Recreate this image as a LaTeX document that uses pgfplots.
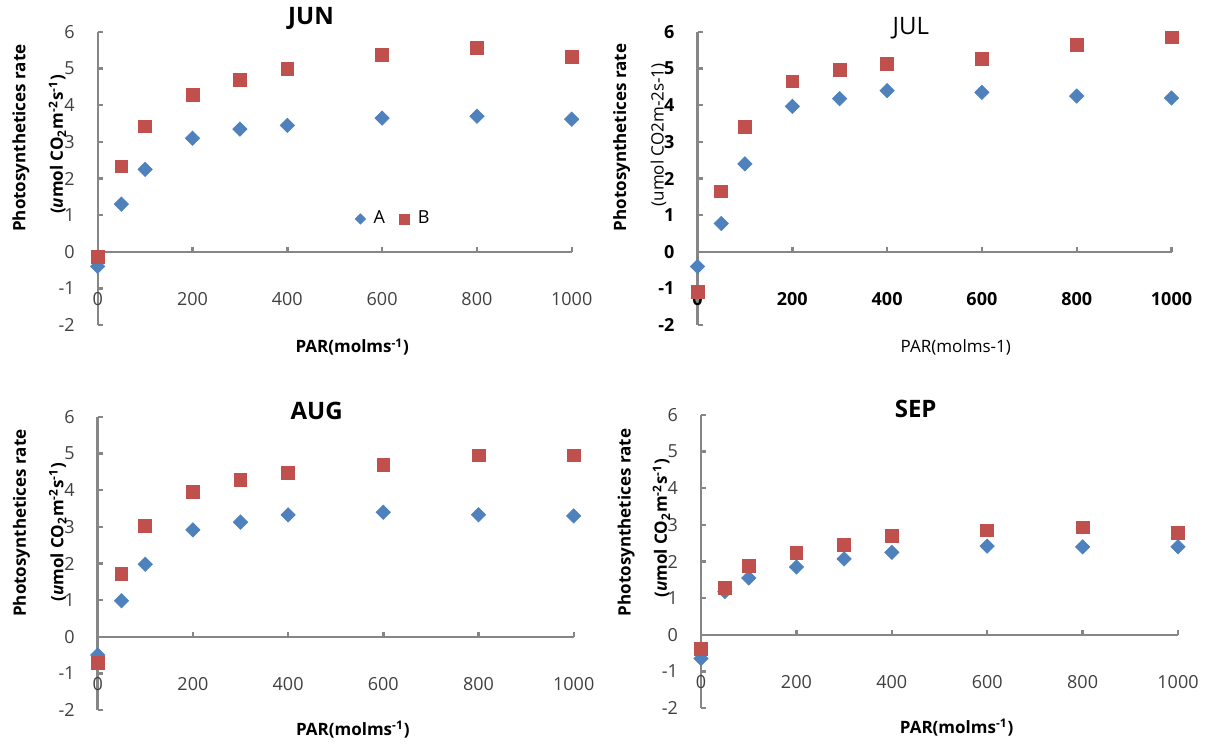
\documentclass[border=0pt]{standalone}
\usepackage{fontspec}
\setmainfont{Open Sans}
\usepackage{pgfplots}
\usepackage{pgfplotstable}
\pgfplotsset{compat=1.18}

\definecolor{serA}{HTML}{4F81BD}
\definecolor{serB}{HTML}{C0504D}
\definecolor{axgray}{HTML}{868686}
\definecolor{ticktext}{HTML}{404040}

% PAR, series A, series B
\pgfplotstableread{
x    A     B
0    -0.40 -0.15
50   1.30  2.33
100  2.25  3.42
200  3.10  4.28
300  3.35  4.70
400  3.45  5.00
600  3.65  5.38
800  3.70  5.57
1000 3.62  5.33
}\jun
\pgfplotstableread{
x    A     B
0    -0.40 -1.10
50   0.77  1.65
100  2.40  3.40
200  3.97  4.65
300  4.18  4.97
400  4.40  5.13
600  4.35  5.27
800  4.25  5.65
1000 4.20  5.85
}\jul
\pgfplotstableread{
x    A     B
0    -0.50 -0.72
50   0.98  1.72
100  1.98  3.03
200  2.92  3.95
300  3.13  4.28
400  3.33  4.48
600  3.40  4.70
800  3.33  4.95
1000 3.30  4.95
}\aug
\pgfplotstableread{
x    A     B
0    -0.65 -0.38
50   1.18  1.27
100  1.55  1.87
200  1.85  2.23
300  2.07  2.45
400  2.25  2.70
600  2.42  2.85
800  2.40  2.93
1000 2.40  2.77
}\sep

\pgfplotsset{
  panel/.style={
    scale only axis, width=237pt, height=146.5pt,
    anchor=south west,
    xmin=0, xmax=1000, ymin=-2, ymax=6,
    axis lines=middle,
    axis line style={-, axgray, line width=1.2pt},
    xtick={0,200,...,1000}, ytick={-2,-1,...,6},
    minor tick num=0,
    tick align=inside, major tick length=2.5pt,
    tick style={axgray, line width=1.2pt},
    hide obscured x ticks=false, hide obscured y ticks=false,
    /pgf/number format/assume math mode=true,
    /pgf/number format/1000 sep={},
    ticklabel style={font=\fontsize{9}{10}\selectfont, text=ticktext},
    xticklabel style={yshift=-17pt},
    yticklabel style={xshift=-8pt},
    clip=false,
  },
  mkA/.style={only marks, color=serA, mark=square*, mark size=2.5pt,
    mark options={rotate=45},
    legend image code/.code={\draw[##1, mark size=1.8pt] plot coordinates {(0pt,0pt)};}},
  mkB/.style={only marks, color=serB, mark=square*, mark size=3.2pt,
    legend image code/.code={\draw[##1, mark size=2.5pt] plot coordinates {(0pt,0pt)};}},
}

\newcommand{\lblfont}{\fontsize{8.5}{10}\selectfont}
\newcommand{\ttlfont}{\fontsize{12}{14}\selectfont}

\begin{document}
\begin{tikzpicture}
\useasboundingbox (0,0) rectangle (605.5pt,372pt);

% JUN
\begin{axis}[panel, at={(48.85pt,209.5pt)},
  legend style={at={(axis description cs:0.53,0.362)}, anchor=west,
    draw=none, fill=none, legend columns=2,
    font=\fontsize{9}{10}\selectfont,
    /tikz/every odd column/.append style={column sep=2pt},
    /tikz/every even column/.append style={column sep=5.5pt}}]
  \addplot[mkA] table[x=x, y=A] {\jun};
  \addplot[mkB] table[x=x, y=B] {\jun};
  \legend{A,B}
  \node[font=\ttlfont\bfseries] at (axis description cs:0.45,1.045) {JUN};
  \node[rotate=90, font=\lblfont\bfseries] at (axis description cs:-0.162,0.638) {Photosynthetices rate};
  \node[rotate=90, font=\lblfont\bfseries] at (axis description cs:-0.085,0.616) {(\textit{u}mol CO\textsubscript{2}m\textsuperscript{-2}s\textsuperscript{-1})};
  \node[font=\lblfont\bfseries] at (axis description cs:0.537,-0.075) {PAR(molms\textsuperscript{-1})};
\end{axis}

% JUL
\begin{axis}[panel, at={(348.75pt,209.5pt)},
  ticklabel style={font=\fontsize{9}{10}\selectfont\bfseries, text=black}]
  \addplot[mkA] table[x=x, y=A] {\jul};
  \addplot[mkB] table[x=x, y=B] {\jul};
  \node[font=\ttlfont] at (axis description cs:0.45,1.012) {JUL};
  \node[rotate=90, font=\lblfont\bfseries] at (axis description cs:-0.16,0.64) {Photosynthetices rate};
  \node[rotate=90, font=\lblfont] at (axis description cs:-0.082,0.649) {(umol CO2m-2s-1)};
  \node[font=\lblfont] at (axis description cs:0.545,-0.078) {PAR(molms-1)};
\end{axis}

% AUG
\begin{axis}[panel, at={(48.85pt,17pt)}, width=238pt]
  \addplot[mkA] table[x=x, y=A] {\aug};
  \addplot[mkB] table[x=x, y=B] {\aug};
  \node[font=\ttlfont\bfseries] at (axis description cs:0.46,1.022) {AUG};
  \node[rotate=90, font=\lblfont\bfseries] at (axis description cs:-0.16,0.638) {Photosynthetices rate};
  \node[rotate=90, font=\lblfont\bfseries] at (axis description cs:-0.084,0.607) {(\textit{u}mol CO\textsubscript{2}m\textsuperscript{-2}s\textsuperscript{-1})};
  \node[font=\lblfont\bfseries] at (axis description cs:0.536,-0.068) {PAR(molms\textsuperscript{-1})};
\end{axis}

% SEP
\begin{axis}[panel, at={(350.5pt,18pt)}, width=238.5pt]
  \addplot[mkA] table[x=x, y=A] {\sep};
  \addplot[mkB] table[x=x, y=B] {\sep};
  \node[font=\ttlfont\bfseries] at (axis description cs:0.45,1.022) {SEP};
  \node[rotate=90, font=\lblfont\bfseries] at (axis description cs:-0.157,0.633) {Photosynthetices rate};
  \node[rotate=90, font=\lblfont\bfseries] at (axis description cs:-0.083,0.614) {(\textit{u}mol CO\textsubscript{2}m\textsuperscript{-2}s\textsuperscript{-1})};
  \node[font=\lblfont\bfseries] at (axis description cs:0.536,-0.068) {PAR(molms\textsuperscript{-1})};
\end{axis}
\end{tikzpicture}
\end{document}
